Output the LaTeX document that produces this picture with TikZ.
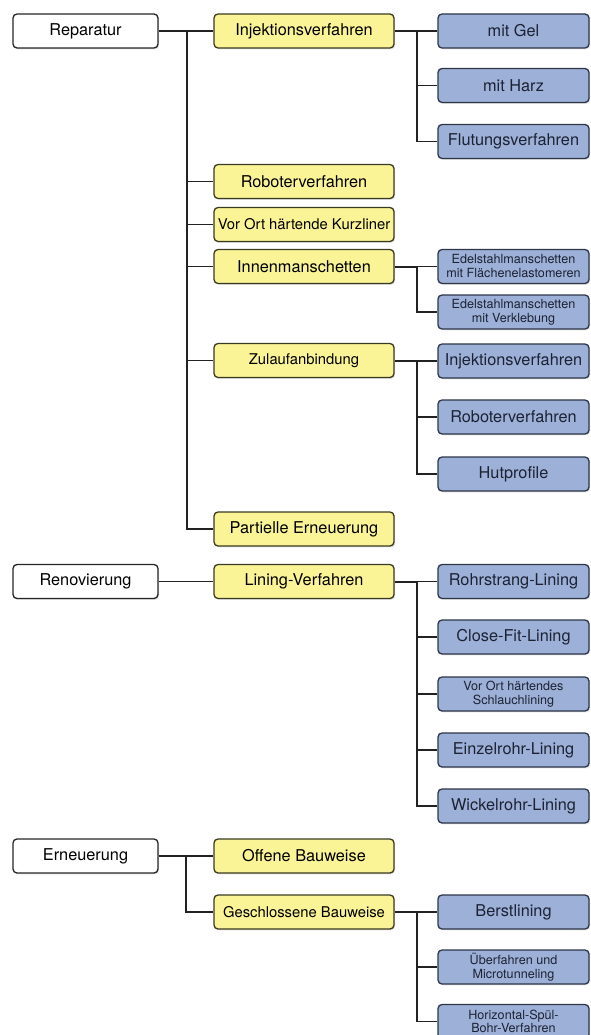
\documentclass[tikz,border=0pt]{standalone}
\usepackage{fontspec}
\setmainfont{TeX Gyre Heros}
\usetikzlibrary{shadows}
\definecolor{yfill}{HTML}{FAF496}
\definecolor{bfill}{HTML}{9DB0D8}
\definecolor{yline}{HTML}{3A3A22}
\definecolor{bline}{HTML}{2E3648}
\definecolor{btext}{HTML}{1C2233}
\definecolor{lcol}{HTML}{222222}
\newcommand\fbig{\fontsize{16.3}{19}\selectfont}
\newcommand\fmid{\fontsize{14.8}{17}\selectfont}
\newcommand\fsml{\fontsize{12.6}{14}\selectfont}
\newcommand\ftiny{\fontsize{12.6}{13.2}\selectfont}
\begin{document}
\begin{tikzpicture}[x=1pt,y=-1pt,
  box/.style={draw, rounded corners=4pt, line width=1.3pt, minimum height=34pt,
    inner sep=2pt, align=center, font=\fbig,
    drop shadow={shadow xshift=1.2pt, shadow yshift=-1.4pt, opacity=0.22}},
  wbox/.style={box, fill=white, draw=black!85, minimum width=145pt},
  ybox/.style={box, fill=yfill, draw=yline, minimum width=180pt},
  bbox/.style={box, fill=bfill, draw=bline, minimum width=151pt, text=btext},
  stub/.style={draw=lcol, line width=2pt},
  conn/.style={draw=lcol, line width=1.4pt}]
\clip (0,0) rectangle (590,1035);
\fill[white] (0,0) rectangle (590,1035);
% level 1
\node[wbox] (rep) at (85.5,31) {Reparatur};
\node[wbox] (ren) at (85.5,581.5) {Renovierung};
\node[wbox] (ern) at (85.5,856) {Erneuerung};
% level 2
\node[ybox] (inj) at (304,31) {Injektionsverfahren};
\node[ybox] (rob) at (304,181.5) {Roboterverfahren};
\node[ybox, font=\fmid] (vok) at (304,224.5) {Vor Ort härtende Kurzliner};
\node[ybox] (inn) at (304,266.5) {Innenmanschetten};
\node[ybox, font=\fmid] (zul) at (304,360.5) {Zulaufanbindung};
\node[ybox] (par) at (304,529) {Partielle Erneuerung};
\node[ybox] (lin) at (304,581.5) {Lining-Verfahren};
\node[ybox] (off) at (304,856) {Offene Bauweise};
\node[ybox, font=\fmid] (ges) at (304,912) {Geschlossene Bauweise};
% level 3
\node[bbox] (gel) at (513.5,31) {mit Gel};
\node[bbox] (harz) at (513.5,85.5) {mit Harz};
\node[bbox] (flut) at (513.5,141.5) {Flutungsverfahren};
\node[bbox, font=\fsml] (ed1) at (513.5,266.5) {Edelstahlmanschetten\\mit Flächenelastomeren};
\node[bbox, font=\fsml] (ed2) at (513.5,312) {Edelstahlmanschetten\\mit Verklebung};
\node[bbox] (binj) at (513.5,361) {Injektionsverfahren};
\node[bbox] (brob) at (513.5,417) {Roboterverfahren};
\node[bbox] (hut) at (513.5,474) {Hutprofile};
\node[bbox] (rohr) at (513.5,581.5) {Rohrstrang-Lining};
\node[bbox] (close) at (513.5,637) {Close-Fit-Lining};
\node[bbox, font=\fsml] (vos) at (513.5,694) {Vor Ort härtendes\\Schlauchlining};
\node[bbox] (einz) at (513.5,750) {Einzelrohr-Lining};
\node[bbox] (wick) at (513.5,806) {Wickelrohr-Lining};
\node[bbox] (berst) at (513.5,912) {Berstlining};
\node[bbox, font=\fsml] (ueb) at (513.5,967) {Überfahren und\\Microtunneling};
\node[bbox, font=\ftiny] (hor) at (513.5,1021.5) {Horizontal-Spül-\\Bohr-Verfahren};
% junctions
\coordinate (t1) at (187,31);
\coordinate (t3) at (186,856);
\coordinate (b1) at (417,31);
\coordinate (b2) at (417,266.5);
\coordinate (b3) at (417,360.5);
\coordinate (b4) at (417,581.5);
\coordinate (b5) at (417,912);
% Reparatur
\draw[stub] (rep.east) -- (t1);
\draw[conn] (t1) -- (inj.west);
\draw[conn] (t1) |- (rob.west);
\draw[conn] (t1) |- (vok.west);
\draw[conn] (t1) |- (inn.west);
\draw[conn] (t1) |- (zul.west);
\draw[conn] (t1) |- (par.west);
\draw[stub] (inj.east) -- (b1);
\draw[conn] (b1) -- (gel.west);
\draw[conn] (b1) |- (harz.west);
\draw[conn] (b1) |- (flut.west);
\draw[stub] (inn.east) -- (b2);
\draw[conn] (b2) -- (ed1.west);
\draw[conn] (b2) |- (ed2.west);
\draw[stub] (zul.east) -- (b3);
\draw[conn] (b3) |- (binj.west);
\draw[conn] (b3) |- (brob.west);
\draw[conn] (b3) |- (hut.west);
% Renovierung
\draw[conn] (ren.east) -- (lin.west);
\draw[stub] (lin.east) -- (b4);
\draw[conn] (b4) -- (rohr.west);
\draw[conn] (b4) |- (close.west);
\draw[conn] (b4) |- (vos.west);
\draw[conn] (b4) |- (einz.west);
\draw[conn] (b4) |- (wick.west);
% Erneuerung
\draw[stub] (ern.east) -- (t3);
\draw[conn] (t3) -- (off.west);
\draw[conn] (t3) |- (ges.west);
\draw[stub] (ges.east) -- (b5);
\draw[conn] (b5) -- (berst.west);
\draw[conn] (b5) |- (ueb.west);
\draw[conn] (b5) |- (hor.west);
\end{tikzpicture}
\end{document}
